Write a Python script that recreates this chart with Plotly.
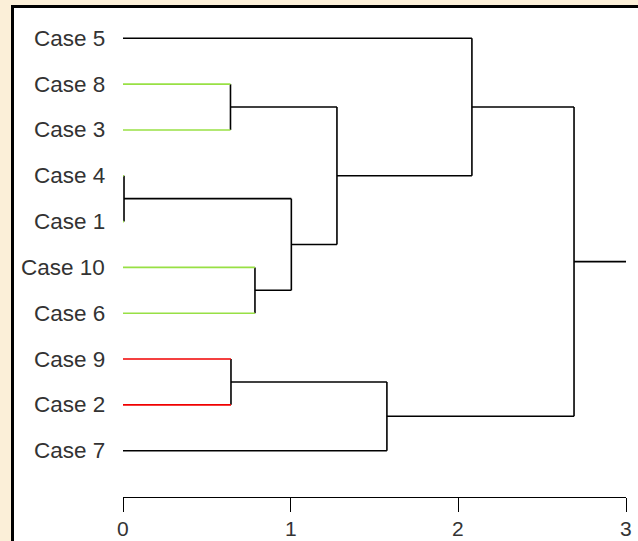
import plotly.graph_objects as go

# ---- data ----
leaves = ["Case 5", "Case 8", "Case 3", "Case 4", "Case 1",
          "Case 10", "Case 6", "Case 9", "Case 2", "Case 7"]
leaf_colors = ["black", "#98E044", "#98E044", "#98E044", "#98E044",
               "#98E044", "#98E044", "#F00000", "#F00000", "black"]
# merges: (left child, right child, height); children are leaf names or merge ids "m#"
merges = {
    "m1": ("Case 4", "Case 1", 0.006),
    "m2": ("Case 8", "Case 3", 0.641),
    "m3": ("Case 9", "Case 2", 0.644),
    "m4": ("Case 10", "Case 6", 0.787),
    "m5": ("m1", "m4", 1.004),
    "m6": ("m2", "m5", 1.276),
    "m7": ("m3", "Case 7", 1.574),
    "m8": ("Case 5", "m6", 2.081),
    "m9": ("m8", "m7", 2.690),
}
root = "m9"
root_end = 3.0
tick_vals = [0, 1, 2, 3]
tick_text = ["0", "1", "2", "3"]

# ---- compute node positions ----
ypos = {name: i + 1 for i, name in enumerate(leaves)}
hgt = {name: 0.0 for name in leaves}
for mid, (a, b, h) in merges.items():
    ypos[mid] = (ypos[a] + ypos[b]) / 2
    hgt[mid] = h

segs = {}  # color -> (xs, ys)
def add(color, x0, y0, x1, y1):
    xs, ys = segs.setdefault(color, ([], []))
    xs += [x0, x1, None]
    ys += [y0, y1, None]

lc = dict(zip(leaves, leaf_colors))
for mid, (a, b, h) in merges.items():
    add("black", h, ypos[a], h, ypos[b])
    for c in (a, b):
        col = lc.get(c, "black")
        add(col, hgt[c], ypos[c], h, ypos[c])
add("black", hgt[root], ypos[root], root_end, ypos[root])

fig = go.Figure()
# invisible trace to attach the scale axis
fig.add_trace(go.Scatter(x=[0, 3], y=[11, 11], xaxis="x2", mode="markers",
                         marker=dict(opacity=0), hoverinfo="skip", showlegend=False))
for col, (xs, ys) in segs.items():
    fig.add_trace(go.Scatter(x=xs, y=ys, mode="lines",
                             line=dict(color=col, width=1.6),
                             hoverinfo="skip", showlegend=False))

FONT = dict(family="Liberation Sans, Arial", size=22.5, color="#333333")
for name in leaves:
    fig.add_annotation(x=0, y=ypos[name], text=name, showarrow=False,
                       xanchor="right", yanchor="middle", xshift=-16, font=FONT)

W, H = 638, 541
ml, mt = 14, 8
pw, ph = W - ml, H - mt
x_lo = (ml - 123) / 167.67
x_hi = (W - 123) / 167.67
y_top = 1 + (mt - 38.3) / 45.82
y_bot = 1 + (H - 38.3) / 45.82
axis_y_paper = 1 - (496.5 - mt) / ph

for v, t in zip(tick_vals, tick_text):
    fig.add_annotation(x=v, y=0, xref="x2", yref="paper", text=t, showarrow=False,
                       xanchor="center", yanchor="bottom", borderpad=0,
                       font=dict(family="Liberation Sans, Arial", size=21, color="#333333"))

BG = "#FBEFD8"
fig.update_layout(
    width=W, height=H,
    margin=dict(l=ml, r=0, t=mt, b=0, pad=0, autoexpand=False),
    paper_bgcolor=BG,
    plot_bgcolor="rgba(0,0,0,0)",
    xaxis=dict(range=[x_lo, x_hi], visible=False, domain=[0, 1], automargin=False),
    xaxis2=dict(range=[0, 3], domain=[(123 - ml) / pw, (626 - ml) / pw],
                anchor="free", position=axis_y_paper, automargin=False,
                showline=True, linecolor="black", linewidth=1,
                ticks="outside", ticklen=14, tickwidth=1, tickcolor="black",
                tickvals=tick_vals, showticklabels=False, showgrid=False, zeroline=False),
    yaxis=dict(range=[y_bot, y_top], visible=False, automargin=False),
    shapes=[
        dict(type="rect", xref="paper", yref="paper", layer="below",
             x0=0, x1=1.5, y0=-0.5, y1=1, fillcolor="white", line=dict(width=0)),
        dict(type="rect", xref="paper", yref="paper",
             x0=-1.5 / pw, x1=1.5, y0=-0.5, y1=1 + 1.5 / ph,
             line=dict(color="black", width=3)),
    ],
)

fig.write_html("out.html", config={"displayModeBar": False},
               post_script="document.body.style.margin='0';document.body.style.background='%s';" % BG)
